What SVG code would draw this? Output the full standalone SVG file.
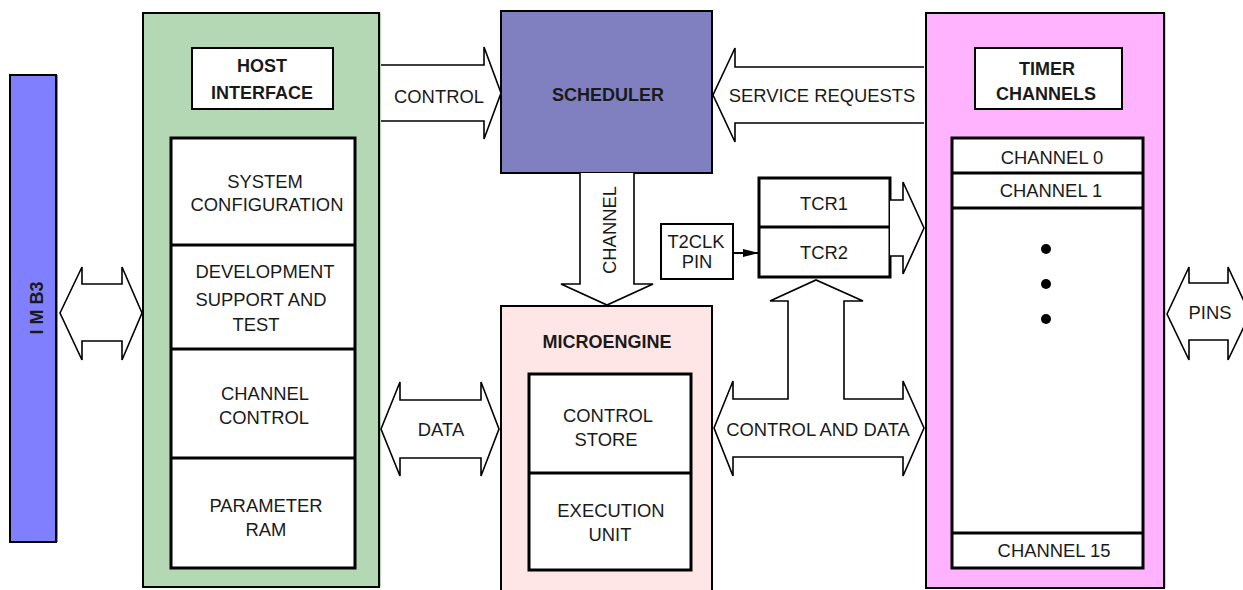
<svg xmlns="http://www.w3.org/2000/svg" width="1243" height="590" viewBox="0 0 1243 590">
<defs>
<style>
text{font-family:"Liberation Sans",Arial,sans-serif;font-size:18.4px;fill:#1a1a1a;text-anchor:middle}
.b{font-weight:bold;font-size:18px}
.box{stroke:#000;stroke-width:2}
.in{fill:#fff;stroke:#000;stroke-width:3}
.lbl{fill:#fff;stroke:#000;stroke-width:2}
.div{stroke:#000;stroke-width:3}
.arr{fill:#fff;stroke:#000;stroke-width:1.6;stroke-linejoin:miter}
</style>
<marker id="ah" viewBox="0 0 16 10" refX="16" refY="5" markerWidth="16" markerHeight="10" markerUnits="userSpaceOnUse" orient="auto">
<path d="M0,1 L16,5 L0,9 Z" fill="#000"/>
</marker>
</defs>
<rect width="1243" height="590" fill="#fff"/>

<g id="imb3">
<rect x="12" y="75" width="46" height="467" fill="#8080ff"/>
<rect x="10" y="75" width="46" height="467" fill="#8080ff" class="box"/>
<text class="b" x="43" y="308" transform="rotate(-90 43 308)">I M B3</text>
</g>

<g id="host">
<rect x="145" y="13" width="236" height="574" fill="#b4d8b4"/>
<rect x="143" y="13" width="236" height="574" fill="#b4d8b4" class="box"/>
<rect x="192" y="48" width="141" height="61" class="lbl"/>
<text class="b" x="262" y="72">HOST</text>
<text class="b" x="262" y="99">INTERFACE</text>
<rect x="171" y="138" width="184" height="430" class="in"/>
<line x1="171" y1="245" x2="355" y2="245" class="div"/>
<line x1="171" y1="349" x2="355" y2="349" class="div"/>
<line x1="171" y1="458" x2="355" y2="458" class="div"/>
<text x="265" y="188">SYSTEM</text>
<text x="267" y="211">CONFIGURATION</text>
<text x="265" y="278">DEVELOPMENT</text>
<text x="261" y="306">SUPPORT AND</text>
<text x="256" y="331">TEST</text>
<text x="265" y="400">CHANNEL</text>
<text x="264" y="424">CONTROL</text>
<text x="266" y="512">PARAMETER</text>
<text x="266" y="536">RAM</text>
</g>

<g id="scheduler">
<rect x="501" y="11" width="211" height="162" fill="#8080c0" class="box"/>
<text class="b" x="608" y="101">SCHEDULER</text>
</g>

<g id="microengine">
<rect x="501" y="306" width="211" height="292" fill="#ffe6e6" class="box"/>
<text class="b" x="607" y="348">MICROENGINE</text>
<rect x="529" y="374" width="162" height="196" class="in"/>
<line x1="529" y1="473" x2="691" y2="473" class="div"/>
<text x="608" y="422">CONTROL</text>
<text x="606" y="446">STORE</text>
<text x="611" y="517">EXECUTION</text>
<text x="610" y="541">UNIT</text>
</g>

<g id="timer">
<rect x="928" y="13" width="238" height="575" fill="#ffb3ff"/>
<rect x="926" y="13" width="238" height="575" fill="#ffb3ff" class="box"/>
<rect x="975" y="48" width="147" height="61" class="lbl"/>
<text class="b" x="1047" y="75">TIMER</text>
<text class="b" x="1046" y="100">CHANNELS</text>
<rect x="952" y="138" width="191" height="430" class="in"/>
<line x1="952" y1="173" x2="1143" y2="173" class="div"/>
<line x1="952" y1="208" x2="1143" y2="208" class="div"/>
<line x1="952" y1="533" x2="1143" y2="533" class="div"/>
<text x="1052" y="164">CHANNEL 0</text>
<text x="1051" y="197">CHANNEL 1</text>
<text x="1054" y="557">CHANNEL 15</text>
<circle cx="1046" cy="249" r="5" fill="#000"/>
<circle cx="1046" cy="284" r="5" fill="#000"/>
<circle cx="1046" cy="319" r="5" fill="#000"/>
</g>

<g id="tcr">
<rect x="759" y="178" width="131" height="99" class="in"/>
<line x1="759" y1="227" x2="890" y2="227" class="div"/>
<text x="824" y="210">TCR1</text>
<text x="824" y="259">TCR2</text>
</g>

<g id="t2clk">
<rect x="661" y="224" width="72" height="55" class="lbl"/>
<text x="696" y="248">T2CLK</text>
<text x="697" y="268">PIN</text>
</g>

<g id="connectors">
<path class="arr" d="M60,313 L82,267 V284 H122 V267 L142,313 L122,360 V341 H82 V360 Z"/>
<path class="arr" d="M381,65 H484 V47 L501,93 L484,139 V121 H381"/>
<text x="439" y="103">CONTROL</text>
<path class="arr" d="M924,67 H735 V48 L713,95 L735,142 V123 H924"/>
<text x="822" y="102">SERVICE REQUESTS</text>
<path class="arr" d="M580,173 V284 H561 L607,305 L653,284 H634 V173"/>
<text x="616" y="230" transform="rotate(-90 616 230)">CHANNEL</text>
<path class="arr" d="M890,200 H903 V182 L924,228 L903,274 V256 H890"/>
<line x1="733" y1="253" x2="759" y2="253" stroke="#000" stroke-width="2" marker-end="url(#ah)"/>
<path class="arr" d="M381,429 L400,382 V400 H481 V382 L499,429 L481,476 V458 H400 V476 Z"/>
<text x="441" y="436">DATA</text>
<path class="arr" d="M714,428 L733,381 V399 H788 V301 H770 L816,280 L863,301 H844 V399 H903 V381 L924,428 L903,476 V457 H733 V476 Z"/>
<text x="818" y="436">CONTROL AND DATA</text>
<path class="arr" d="M1167,314 L1189,267 V283 H1228 V267 L1250,314 L1228,360 V340 H1189 V360 Z"/>
<text x="1210" y="319">PINS</text>
</g>
</svg>
